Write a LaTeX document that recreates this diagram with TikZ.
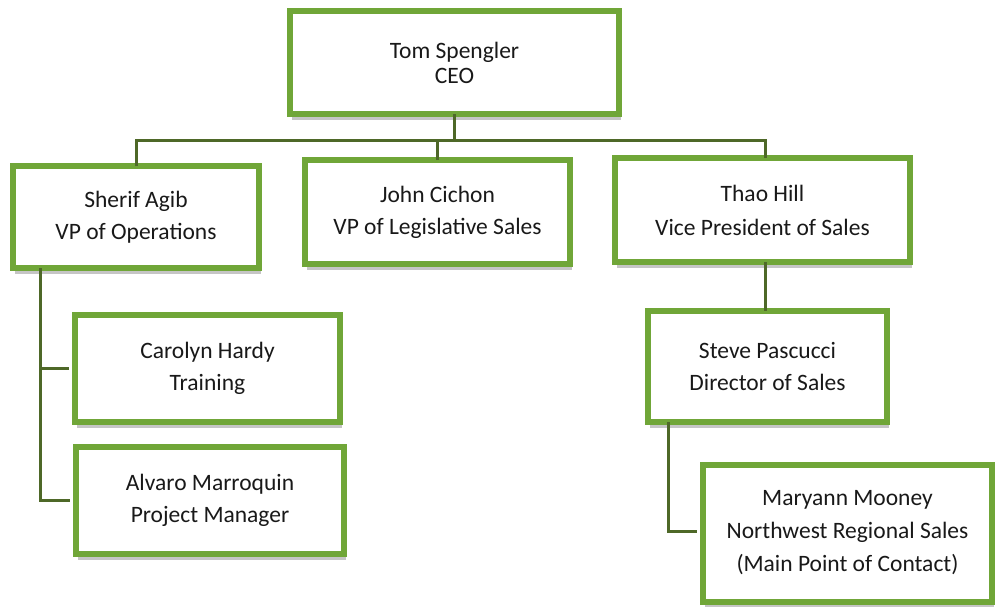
\documentclass[tikz,border=0pt]{standalone}
\usepackage{fontspec}
\setmainfont{Carlito}
\usetikzlibrary{shadows,calc}
\definecolor{boxgreen}{RGB}{112,166,56}
\definecolor{linegreen}{RGB}{78,104,40}
\tikzset{
  person/.style={draw=boxgreen, line width=6pt, fill=white, rectangle, align=center,
    inner sep=0pt, text=black!90,
    drop shadow={shadow xshift=2pt, shadow yshift=-6pt, fill=black!50, opacity=0.45},
    font=\fontsize{23.5}{32}\selectfont},
  conn/.style={draw=linegreen, line width=3pt}
}
\begin{document}
\begin{tikzpicture}[x=1pt,y=-1pt]
\useasboundingbox (0,0) rectangle (997,606);
\fill[white] (0,0) rectangle (997,606);
\coordinate (bus) at (455,140);
\coordinate (sl) at (40,0);
\coordinate (ml) at (668,0);
\node[person, minimum width=329pt, minimum height=103pt, font=\fontsize{23.5}{25}\selectfont] (ceo) at (454.5,62.5) {Tom Spengler\\CEO};
\node[person, minimum width=246pt, minimum height=102pt] (sherif) at (136,217) {Sherif Agib\\VP of Operations};
\node[person, minimum width=265pt, minimum height=104pt] (john) at (437.5,212) {John Cichon\\VP of Legislative Sales};
\node[person, minimum width=295pt, minimum height=104pt, font=\fontsize{23.5}{34}\selectfont] (thao) at (762.5,210) {Thao Hill\\Vice President of Sales};
\node[person, minimum width=265pt, minimum height=107pt] (carolyn) at (207.5,368.5) {Carolyn Hardy\\Training};
\node[person, minimum width=268pt, minimum height=107pt] (alvaro) at (210,500.5) {Alvaro Marroquin\\Project Manager};
\node[person, minimum width=239pt, minimum height=111pt] (steve) at (767.5,366.5) {Steve Pascucci\\Director of Sales};
\node[person, minimum width=289pt, minimum height=137pt, font=\fontsize{23.5}{33}\selectfont] (maryann) at (847.5,533) {Maryann Mooney\\Northwest Regional Sales\\(Main Point of Contact)};
% connectors
\draw[conn] ([yshift=3pt]ceo.south) -- (ceo.south |- bus);
\draw[conn] ([yshift=-3pt]sherif.north) |- (bus) -- ([xshift=2.5pt]thao.north |- bus) -- ([xshift=2.5pt,yshift=-3pt]thao.north);
\draw[conn] ([yshift=-3pt]john.north) -- (john.north |- bus);
\draw[conn] ([yshift=3pt]sherif.south -| sl) |- ([xshift=-3pt]alvaro.west);
\draw[conn] ([xshift=-3pt]carolyn.west) -- (carolyn.west -| sl);
\draw[conn] ([xshift=2.5pt,yshift=3pt]thao.south) -- ([xshift=2.5pt,yshift=-3pt]thao.south |- steve.north);
\draw[conn] ([yshift=3pt]steve.south -| ml) |- ([xshift=-3pt,yshift=2pt]maryann.west);
\end{tikzpicture}
\end{document}
